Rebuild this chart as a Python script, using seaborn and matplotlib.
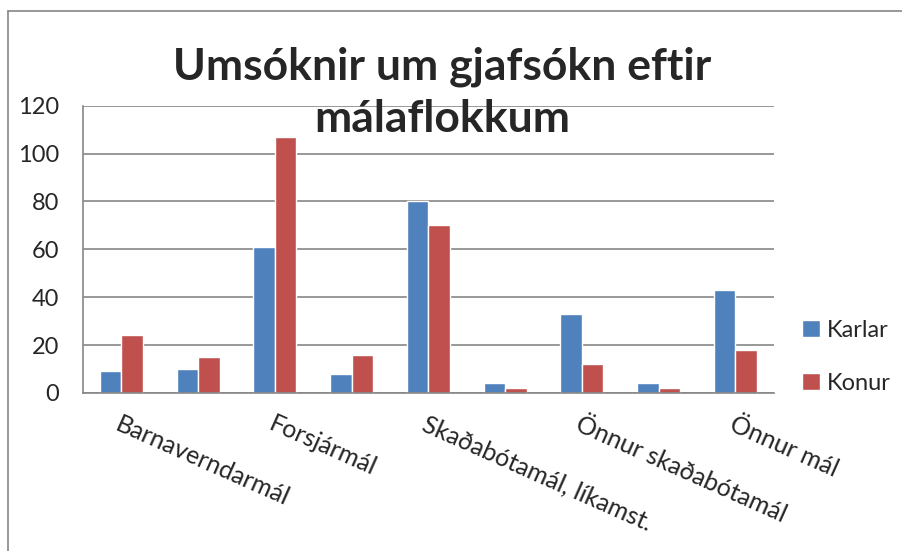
import pandas as pd
import seaborn as sns
import matplotlib.pyplot as plt
from matplotlib.lines import Line2D

# Data
categories = ['Barnaverndarmál', 'Cat2', 'Forsjármál', 'Cat4', 'Skaðabótamál, líkamst.',
              'Cat6', 'Önnur skaðabótamál', 'Cat8', 'Önnur mál']
tick_labels = ['Barnaverndarmál', '', 'Forsjármál', '', 'Skaðabótamál, líkamst.',
               '', 'Önnur skaðabótamál', '', 'Önnur mál']
karlar = [9, 10, 61, 8, 80, 4, 33, 4, 43]
konur = [24, 15, 107, 16, 70, 2, 12, 2, 18]
series = ['Karlar', 'Konur']
colors = ['#4F81BD', '#C0504D']

df = pd.DataFrame({
    'flokkur': categories * 2,
    'fjoldi': karlar + konur,
    'kyn': ['Karlar'] * len(karlar) + ['Konur'] * len(konur),
})

sns.set_style('white')
plt.rcParams['font.family'] = ['Lato', 'DejaVu Sans']

fig = plt.figure(figsize=(9.03, 5.51), dpi=100)
ax = fig.add_axes([0.092, 0.287, 0.765, 0.521])

sns.barplot(data=df, x='flokkur', y='fjoldi', hue='kyn', hue_order=series,
            palette=colors, width=0.56, saturation=1, ax=ax, legend=True)

ax.set_ylim(0, 120)
ax.set_yticks(range(0, 121, 20))
ax.yaxis.grid(True, color='#868686', linewidth=1.2)
ax.set_axisbelow(True)
ax.set_xlim(-0.5, len(categories) - 0.5)
ax.set_xlabel('')
ax.set_ylabel('')

for s in ['top', 'right']:
    ax.spines[s].set_visible(False)
for s in ['left', 'bottom']:
    ax.spines[s].set_color('#868686')
    ax.spines[s].set_linewidth(1.2)

ax.tick_params(axis='y', length=0, labelsize=17, pad=17)
ax.tick_params(axis='x', length=0, pad=14)
ax.set_xticks(range(len(categories)))
ax.set_xticklabels(tick_labels, rotation=-24, ha='left', rotation_mode='anchor',
                   fontsize=18)

leg = ax.legend(loc='center left', bbox_to_anchor=(1.01, 0.125), frameon=False,
                fontsize=17, handlelength=0.75, handleheight=0.75,
                handletextpad=0.3, labelspacing=1.35)

fig.text(0.49, 0.832, 'Umsóknir um gjafsókn eftir\nmálaflokkum', ha='center',
         va='center', fontsize=32, fontweight='bold', linespacing=1.38)

# outer chart frame (only top and left edges show in the crop)
fig.add_artist(Line2D([0.009, 1.0], [0.98, 0.98], transform=fig.transFigure,
                      color='#868686', linewidth=1.2))
fig.add_artist(Line2D([0.009, 0.009], [0.0, 0.98], transform=fig.transFigure,
                      color='#868686', linewidth=1.2))

plt.savefig('out.png', dpi=100)
